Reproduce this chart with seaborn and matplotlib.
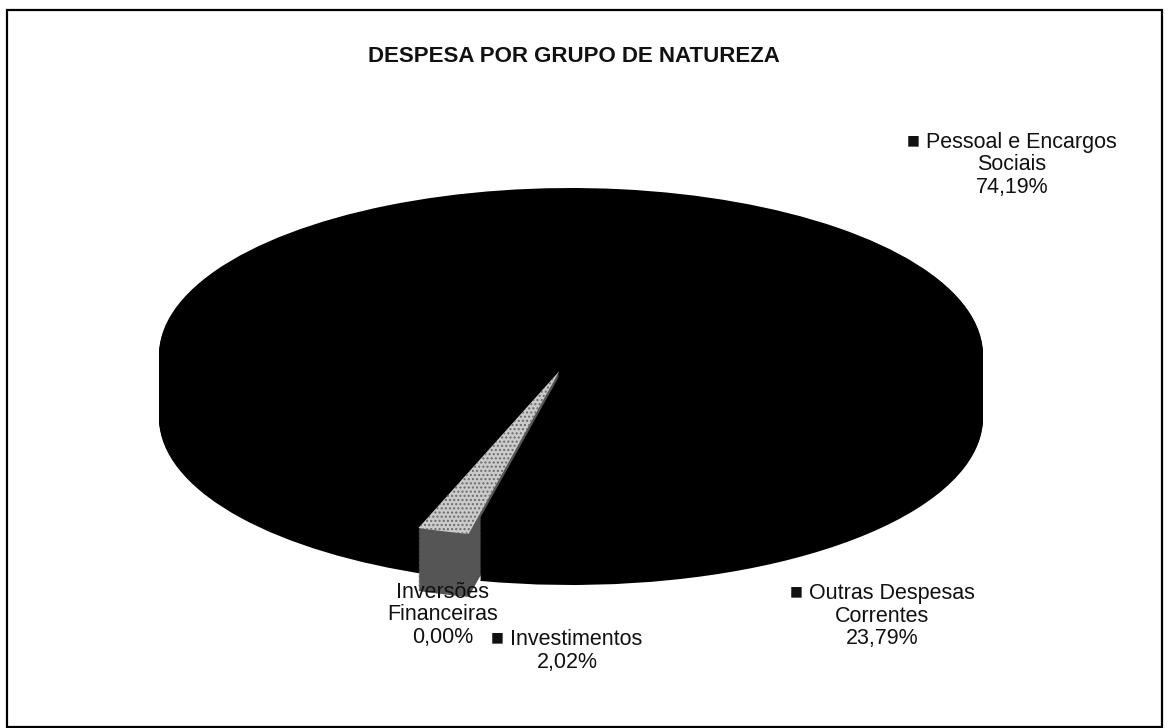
import numpy as np
import matplotlib
matplotlib.use("Agg")
import matplotlib.pyplot as plt
from matplotlib.patches import Rectangle
import seaborn as sns

# ---------------- data ----------------
categories = ["Pessoal e Encargos Sociais", "Outras Despesas Correntes",
              "Investimentos", "Inversões Financeiras"]
values = [74.19, 23.79, 2.02, 0.00]
label_names = ["\u25A0 Pessoal e Encargos\nSociais",
               "\u25A0 Outras Despesas\nCorrentes",
               "\u25A0 Investimentos",
               "Inversões\nFinanceiras"]
title = "DESPESA POR GRUPO DE NATUREZA"

# ---------------- style ----------------
sns.set_theme(style="white")
plt.rcParams["font.family"] = ["Liberation Sans", "DejaVu Sans"]

W, H = 1169, 728
fig = plt.figure(figsize=(W / 100, H / 100), dpi=100)
fig.patch.set_facecolor("white")

def fpos(x, y):
    return (x / W, 1 - y / H)

# pie geometry (pixels)
cx, cy = 571, 355      # centre of the top face
a, b = 412, 167        # semi-axes of the top face ellipse
depth_px = 63

ax = fig.add_axes([0, 0, 1, 1])
top_colors = ["#000000", "#000000", "#cbcbcb", "#000000"]
side_colors = ["#000000", "#000000", "#555555", "#000000"]
explode = [0, 0, 0.1, 0]

depth = depth_px / b
n_layers = 50
for i, dz in enumerate(np.linspace(depth, 0, n_layers)):
    top = i == n_layers - 1
    wedges, _ = ax.pie(values, colors=top_colors if top else side_colors,
                       startangle=250.0, counterclock=False, explode=explode,
                       center=(0, -dz), radius=1,
                       wedgeprops=dict(linewidth=0))
    if top:
        w = wedges[2]
        w.set_hatch("....")
        w.set_edgecolor("#6b6b6b")
        w.set_linewidth(0)

ax.set_xlim(-cx / a, (W - cx) / a)
ax.set_ylim(-(H - cy) / b, cy / b)
ax.set_aspect("auto")
ax.axis("off")

# ---------------- texts ----------------
def pct(v):
    return f"{v:.2f}%".replace(".", ",")

label_pos = [(1012, 165), (882, 616), (567, 651), (443, 615)]
for name, v, (x, y) in zip(label_names, values, label_pos):
    fig.text(*fpos(x, y), f"{name}\n{pct(v)}", ha="center", va="center",
             fontsize=15.5, color="#111111", linespacing=1.12,
             multialignment="center")

fig.text(*fpos(574, 56), title, ha="center", va="center",
         fontsize=16, fontweight="bold", color="#111111")

# outer frame
x0, y0, x1, y1 = 7, 10, 1162, 727
fig.patches.append(Rectangle((x0 / W, 1 - y1 / H), (x1 - x0) / W, (y1 - y0) / H,
                             transform=fig.transFigure, fill=False,
                             edgecolor="black", linewidth=1.6))

fig.savefig("out.png", dpi=100)
